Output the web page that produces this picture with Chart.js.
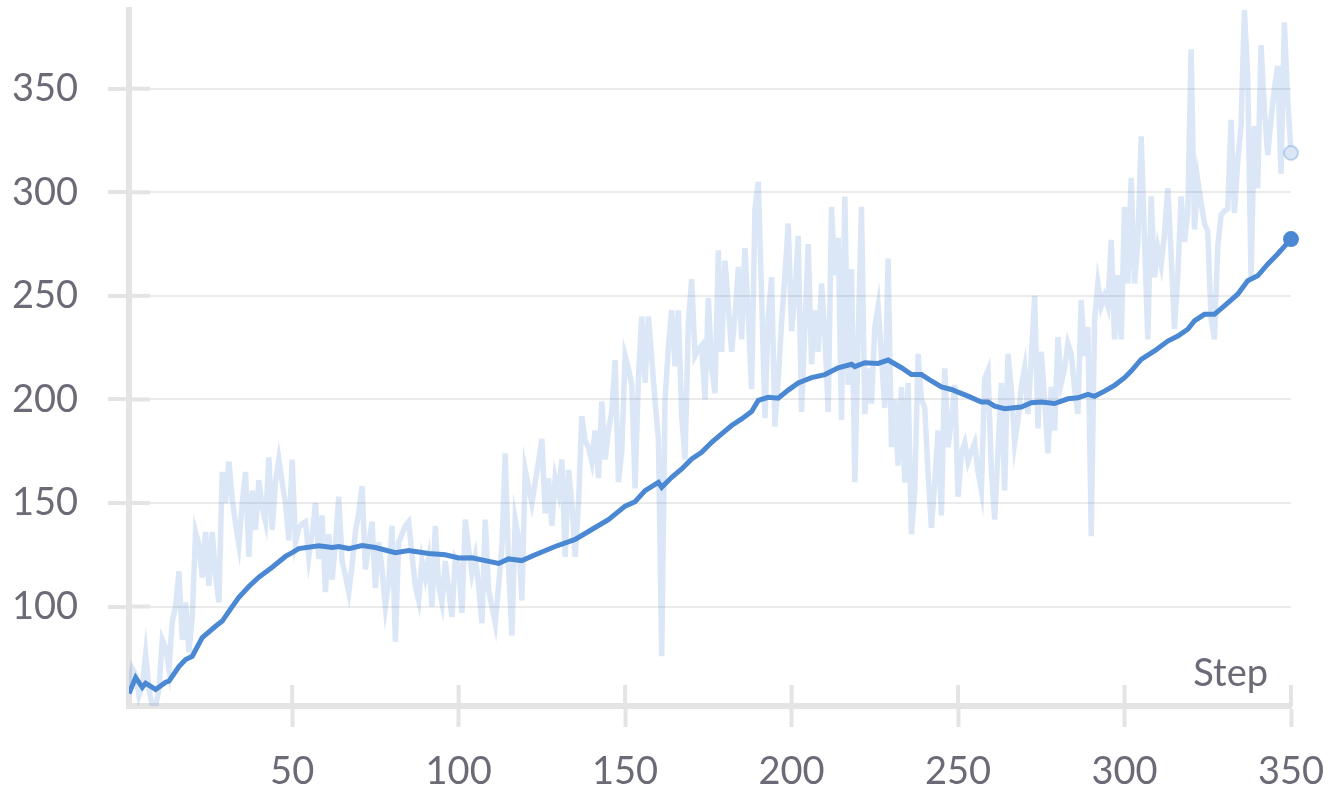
<!DOCTYPE html>
<html><head><meta charset="utf-8">
<script src="https://cdn.jsdelivr.net/npm/chart.js@4.4.1/dist/chart.umd.min.js"></script>
<style>html,body{margin:0;padding:0;background:#fff;overflow:hidden}#wrap{width:1336px;height:798px;position:relative}</style>
</head><body><div id="wrap"><canvas id="c" width="1336" height="798"></canvas></div>
<script>
// raw values, one per step (steps 1..350)
const rawValues = [
58,70,67,57,62,77,60,52,52,60,
84,80,70,93,100,117,84,102,78,95,
136,130,114,136,110,136,115,102,165,150,
170,152,140,130,150,165,124,156,137,161,
148,141,172,137,160,171,160,150,132,171,
131,138,140,141,124,135,150,123,144,107,
135,113,130,153,122,115,107,120,136,145,
158,118,130,141,109,131,118,100,112,139,
83,131,135,139,141,125,110,103,122,114,
123,100,139,110,102,122,108,95,123,120,
97,142,128,116,124,110,92,142,108,100,
92,110,129,174,120,86,142,133,103,166,
158,150,160,170,181,145,162,139,162,155,
171,124,166,150,124,150,192,180,177,170,
185,162,199,171,185,194,219,160,175,221,
215,207,157,210,240,208,240,220,199,181,
76,200,225,243,216,243,192,171,237,258,
221,224,226,200,249,215,203,272,223,267,
245,223,240,264,229,273,240,205,292,305,
250,191,240,259,187,210,237,260,285,233,
250,279,194,235,275,217,243,223,256,231,
194,293,260,278,190,298,207,263,160,230,
293,193,215,198,235,245,220,196,268,177,
200,168,206,160,208,135,156,222,200,196,
164,138,160,185,144,215,177,190,207,153,
174,179,170,175,179,165,156,210,214,166,
142,175,208,156,222,205,179,190,206,215,
193,220,250,186,223,200,174,206,185,230,
208,215,227,222,205,193,248,221,235,134,
238,256,245,250,245,277,229,260,229,293,
256,307,256,276,327,277,229,298,259,273,
265,280,302,270,234,260,298,276,290,369,
282,306,295,285,281,239,229,274,289,291,
292,335,290,315,332,388,356,258,332,302,
371,340,318,335,350,361,309,382,345,319
];
const rawSteps = rawValues.map((v, i) => i + 1);

// smoothed series, read at these steps
const smoothSteps = [1,3,5,6,9,12,13,16,18,20,23,27,29,32,34,37,40,44,48,50,52,58,62,64,67,71,75,81,85,91,96,100,104,108,112,115,119,123,129,135,140,145,150,153,156,160,161,164,167,170,173,176,179,182,185,188,190,193,196,199,202,206,210,214,218,219,222,226,229,233,236,239,242,245,248,250,253,257,259,261,264,269,272,275,279,283,286,289,291,294,297,300,302,305,309,313,316,319,321,324,327,330,334,337,340,343,346,350];
const smoothValues = [58,65.7,61,63,60,63.5,64,71,74.4,76,85,90.5,93,100,104.5,109.7,114.2,119,124.2,126,128,129.3,128.5,129,128,129.5,128.5,126,127,125.6,125,123.5,123.6,122.2,120.8,123,122.2,125,129,132.4,137.2,142,148.5,150.6,156,160,157.6,162.4,166.4,171.3,174.5,179.3,183.4,187.4,190.6,194.2,199.5,201,200.6,204.5,208,210.5,212,215.3,217,215.8,217.7,217.4,219,215.3,212,212,208.9,206,204.8,203.5,201.6,198.7,198.7,196.8,195.5,196.3,198.4,198.7,198,200.3,200.8,202.4,201.5,204,206.8,210.5,213.7,219.3,223.4,228.2,230.6,233.9,237.9,241.1,241.1,245.2,250.8,257.3,259.7,265.3,270.2,277.4];

const xTickValues = [50,100,150,200,250,300,350];
const yTickValues = [100,150,200,250,300,350];
const xTitle = 'Step';

const TEXT = '#6b6a76';
const AXIS = '#e4e4e4';
const GRID = '#ebebeb';
const FONT = {family: 'Lato, "Open Sans", sans-serif', size: 38};

const crossTicks = {
  id: 'crossTicks',
  beforeDatasetsDraw(chart) {
    const {ctx, chartArea, scales: {x, y}} = chart;
    ctx.save();
    ctx.strokeStyle = AXIS;
    ctx.lineWidth = 4;
    x.ticks.forEach(t => {
      const px = x.getPixelForValue(t.value);
      ctx.beginPath(); ctx.moveTo(px, chartArea.bottom); ctx.lineTo(px, chartArea.bottom - 21); ctx.stroke();
    });
    y.ticks.forEach(t => {
      const py = y.getPixelForValue(t.value);
      ctx.beginPath(); ctx.moveTo(chartArea.left, py); ctx.lineTo(chartArea.left + 21, py); ctx.stroke();
    });
    ctx.font = FONT.size + 'px ' + FONT.family;
    ctx.fillStyle = TEXT;
    ctx.textAlign = 'right';
    ctx.textBaseline = 'alphabetic';
    ctx.fillText(xTitle, chartArea.right - 23, chartArea.bottom - 20);
    ctx.restore();
  }
};

const lastRaw = rawValues.length - 1;
const lastSmooth = smoothValues.length - 1;

new Chart(document.getElementById('c'), {
  type: 'line',
  data: {
    datasets: [
      {
        data: smoothSteps.map((s, i) => ({x: s, y: smoothValues[i]})),
        borderColor: '#4a88d4',
        borderWidth: 5,
        tension: 0,
        pointRadius: c => c.dataIndex === lastSmooth ? 8 : 0,
        pointBackgroundColor: '#4a88d4',
        pointBorderWidth: 0,
        clip: {left: 0, top: 3, right: 20, bottom: 0},
        order: 0
      },
      {
        data: rawSteps.map((s, i) => ({x: s, y: rawValues[i]})),
        borderColor: 'rgba(74,136,212,0.2)',
        borderWidth: 5.5,
        tension: 0,
        pointRadius: c => c.dataIndex === lastRaw ? 7 : 0,
        pointBackgroundColor: '#dbe7f6',
        pointBorderColor: 'rgba(74,136,212,0.3)',
        pointBorderWidth: 2,
        clip: {left: 0, top: 3, right: 20, bottom: 0},
        order: 1
      }
    ]
  },
  options: {
    responsive: false,
    devicePixelRatio: 1,
    animation: false,
    events: [],
    layout: {padding: {top: 10, right: 45, left: 0, bottom: 0}},
    plugins: {legend: {display: false}, tooltip: {enabled: false}},
    scales: {
      x: {
        type: 'linear',
        position: 'bottom',
        min: 1,
        max: 350,
        afterBuildTicks: s => { s.ticks = xTickValues.map(v => ({value: v})); },
        afterFit: s => { s.height = 92; s.paddingLeft = 0; s.paddingRight = 0; },
        grid: {drawOnChartArea: false, drawTicks: true, tickLength: 21, tickWidth: 4, tickColor: AXIS},
        border: {display: true, color: AXIS, width: 6},
        ticks: {font: FONT, color: TEXT, padding: 22, maxRotation: 0, autoSkip: false}
      },
      y: {
        type: 'linear',
        min: Math.min(...rawValues),
        max: Math.max(...rawValues),
        afterBuildTicks: s => { s.ticks = yTickValues.map(v => ({value: v})); },
        afterFit: s => { s.width = 129; s.paddingTop = 0; s.paddingBottom = 0; },
        grid: {color: GRID, lineWidth: 2, drawTicks: true, tickLength: 21, tickWidth: 4, tickColor: AXIS},
        border: {display: true, color: AXIS, width: 6},
        ticks: {font: FONT, color: TEXT, padding: 30}
      }
    }
  },
  plugins: [crossTicks]
});
</script>
</body></html>
